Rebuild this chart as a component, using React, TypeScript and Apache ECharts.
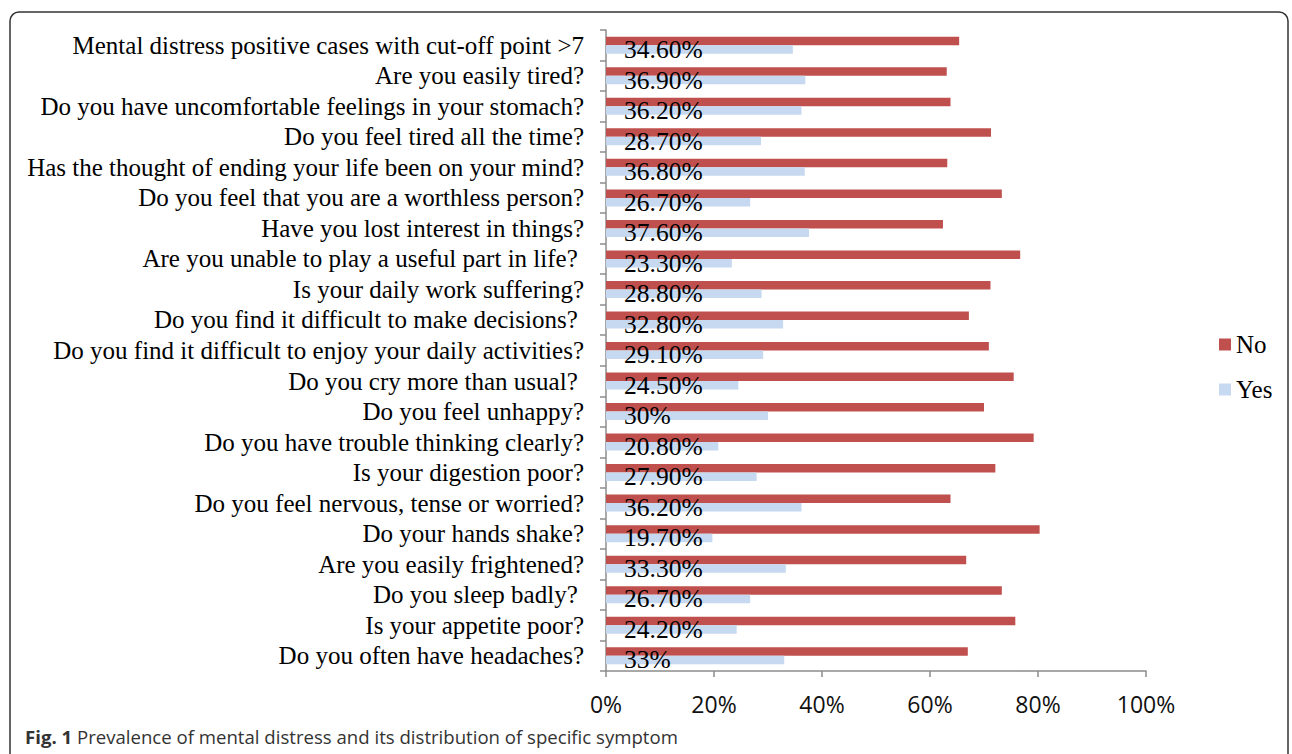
import React, { useEffect, useRef } from "react";
import * as echarts from "echarts";

const categories: string[] = [
  "Mental distress positive cases with cut-off point >7",
  "Are you easily tired?",
  "Do you have uncomfortable feelings in your stomach?",
  "Do you feel tired all the time?",
  "Has the thought of ending your life been on your mind?",
  "Do you feel that you are a worthless person?",
  "Have you lost interest in things?",
  "Are you unable to play a useful part in life? ",
  "Is your daily work suffering?",
  "Do you find it difficult to make decisions? ",
  "Do you find it difficult to enjoy your daily activities?",
  "Do you cry more than usual? ",
  "Do you feel unhappy?",
  "Do you have trouble thinking clearly?",
  "Is your digestion poor?",
  "Do you feel nervous, tense or worried?",
  "Do your hands shake?",
  "Are you easily frightened?",
  "Do you sleep badly? ",
  "Is your appetite poor?",
  "Do you often have headaches?",
];

const noValues: number[] = [
  65.4, 63.1, 63.8, 71.3, 63.2, 73.3, 62.4, 76.7, 71.2, 67.2, 70.9, 75.5, 70,
  79.2, 72.1, 63.8, 80.3, 66.7, 73.3, 75.8, 67,
];

const yesValues: number[] = [
  34.6, 36.9, 36.2, 28.7, 36.8, 26.7, 37.6, 23.3, 28.8, 32.8, 29.1, 24.5, 30,
  20.8, 27.9, 36.2, 19.7, 33.3, 26.7, 24.2, 33,
];

const yesLabels: string[] = [
  "34.60%", "36.90%", "36.20%", "28.70%", "36.80%", "26.70%", "37.60%",
  "23.30%", "28.80%", "32.80%", "29.10%", "24.50%", "30%", "20.80%",
  "27.90%", "36.20%", "19.70%", "33.30%", "26.70%", "24.20%", "33%",
];

const xTicks = { min: 0, max: 100, interval: 20 };
const seriesNames = ["No", "Yes"];
const caption = "Prevalence of mental distress and its distribution of specific symptom";

const SERIF = "'Liberation Serif', 'Times New Roman', serif";
const SANS = "'Open Sans', 'Noto Sans', sans-serif";

export default function App() {
  const ref = useRef<HTMLDivElement | null>(null);
  useEffect(() => {
    if (!ref.current) return;
    const chart = echarts.init(ref.current, undefined, { renderer: "svg" });
    chart.setOption({
      animation: false,
      backgroundColor: "#ffffff",
      grid: { left: 606, right: 146, top: 30, bottom: 83, containLabel: false },
      legend: {
        orient: "vertical",
        left: 1219,
        top: 332,
        padding: 0,
        icon: "rect",
        itemWidth: 12,
        itemHeight: 12,
        itemGap: 20,
        itemTextGap: 6,
        textStyle: { fontFamily: SERIF, fontSize: 25, color: "#000" },
        data: seriesNames,
      },
      xAxis: {
        type: "value",
        min: xTicks.min,
        max: xTicks.max,
        interval: xTicks.interval,
        splitLine: { show: false },
        axisLine: { show: true, lineStyle: { color: "#8c8c8c", width: 1.5 } },
        axisTick: { show: true, length: 6, lineStyle: { color: "#8c8c8c", width: 1.5 } },
        axisLabel: {
          formatter: "{value}%",
          fontFamily: SANS,
          fontSize: 23,
          color: "#111",
          margin: 21,
        },
      },
      yAxis: {
        type: "category",
        inverse: true,
        data: categories,
        axisLine: { show: true, lineStyle: { color: "#8c8c8c", width: 1.5 } },
        axisTick: { show: true, length: 6, lineStyle: { color: "#8c8c8c", width: 1.5 } },
        axisLabel: {
          fontFamily: SERIF,
          fontSize: 25,
          color: "#000",
          margin: 22,
          interval: 0,
        },
      },
      series: [
        {
          name: seriesNames[0],
          type: "bar",
          data: noValues,
          barWidth: 8.5,
          barGap: "0%",
          itemStyle: { color: "#C0504D" },
        },
        {
          name: seriesNames[1],
          type: "bar",
          data: yesValues,
          barWidth: 8.5,
          barGap: "0%",
          itemStyle: { color: "#C6D9F1" },
          label: {
            show: true,
            position: "insideLeft",
            distance: 18,
            fontFamily: SERIF,
            fontSize: 25.5,
            color: "#000",
            formatter: (p: any) => yesLabels[p.dataIndex],
          },
        },
      ],
      graphic: [
        {
          type: "rect",
          shape: { x: 10, y: 12, width: 1278, height: 800, r: 9 },
          style: { fill: "none", stroke: "#333", lineWidth: 1.5 },
          silent: true,
        },
        {
          type: "text",
          left: 25,
          top: 727,
          style: {
            text: "{b|Fig. 1} " + caption,
            fontFamily: SANS,
            fontSize: 18.6,
            fill: "#333",
            rich: {
              b: { fontFamily: SANS, fontSize: 18.6, fontWeight: "bold", fill: "#333" },
            },
          },
        },
      ],
    });
    return () => chart.dispose();
  }, []);
  return (
    <div
      ref={ref}
      style={{ position: "absolute", left: 0, top: 0, width: 1292, height: 754 }}
    />
  );
}
